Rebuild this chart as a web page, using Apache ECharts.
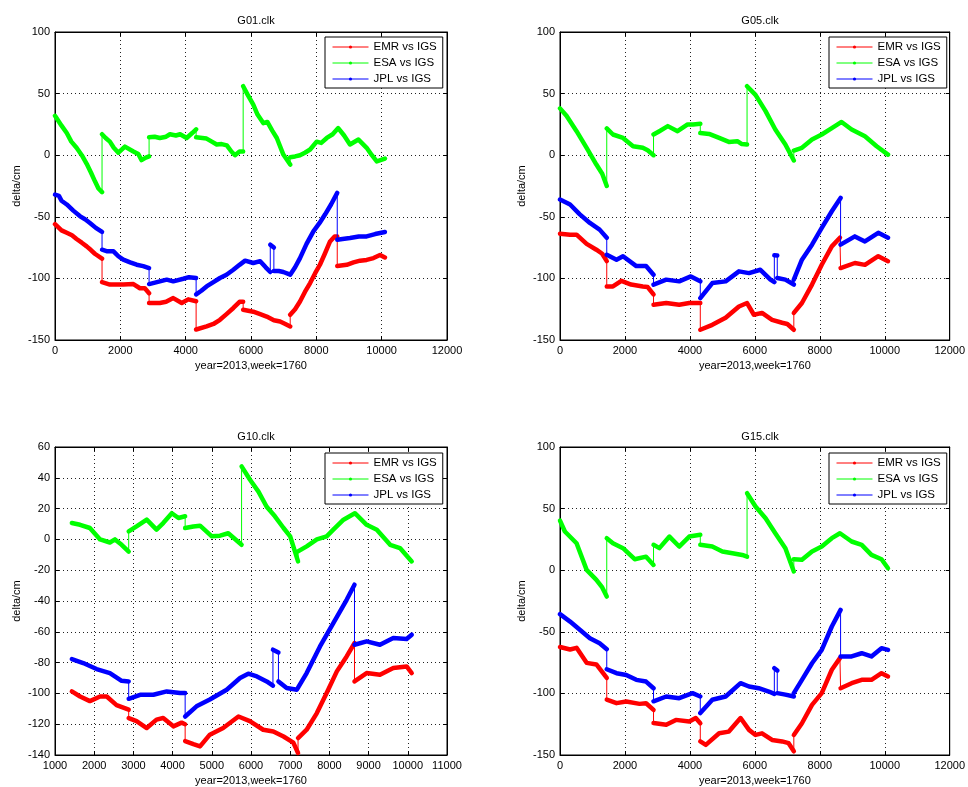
<!DOCTYPE html>
<html><head><meta charset="utf-8">
<script src="https://cdn.jsdelivr.net/npm/echarts@6/dist/echarts.min.js"></script>
<style>html,body{margin:0;padding:0;background:#fff}#c{width:968px;height:787px}</style>
</head><body><div id="c"></div><script>
const seriesNames = ['EMR vs IGS', 'ESA vs IGS', 'JPL vs IGS'];
const seriesColors = ['#ff0000', '#00ff00', '#0000ff'];
const panelTitles = ['G01.clk', 'G05.clk', 'G10.clk', 'G15.clk'];
const xAxisLabel = 'year=2013,week=1760';
const yAxisLabel = 'delta/cm';
const xRanges = [[0, 12000, 2000], [0, 12000, 2000], [1000, 11000, 1000], [0, 12000, 2000]];
const yRanges = [[-150, 100, 50], [-150, 100, 50], [-140, 60, 20], [-150, 100, 50]];

// ---- G01 ----
const G01_EMR = [[0,-56],[200,-61],[360,-63],[520,-65],[660,-68],[820,-71],[970,-74],[1100,-77],[1220,-80],[1440,-84],
[1440,-103],[1680,-105],[1900,-105],[2090,-105],[2400,-104.6],[2600,-108],[2750,-108],[2880,-112],
[2880,-120],[3210,-120],[3400,-119],[3620,-116],[3880,-120],[4080,-117],[4320,-118.5],
[4320,-141.5],[4640,-139],[4850,-137],[5050,-133.6],[5250,-129],[5460,-124],[5650,-119],[5760,-119],
[5760,-125.5],[6070,-127],[6280,-129],[6480,-131],[6700,-134],[6890,-135],[7050,-137],[7200,-139],
[7200,-129.5],[7350,-125],[7500,-118.7],[7650,-111],[7810,-103.8],[7960,-96],[8110,-88.9],[8260,-80],[8420,-70],[8560,-66],[8640,-66],
[8640,-90],[8930,-89],[9140,-87],[9340,-85.6],[9540,-85],[9750,-83.5],[9950,-81],[10100,-83]];
const G01_ESA = [[0,32],[200,24],[360,18],[500,11],[660,6],[820,0],[970,-7],[1100,-14],[1220,-21],[1330,-27],[1440,-30],
[1440,17],[1550,14],[1680,11],[1800,6],[1940,2],[2140,7],[2400,3],[2550,1],[2650,-4],[2780,-2],[2880,-1],
[2880,14.5],[3050,15],[3210,14],[3400,15],[3520,17],[3700,16],[3830,17],[4030,14],[4200,18],[4320,21],
[4320,14.5],[4640,13.5],[4800,11],[4950,8.7],[5100,9],[5260,8],[5400,3],[5510,0],[5650,3],[5760,3],
[5760,56],[5900,49],[6070,41],[6200,33],[6380,26],[6500,27],[6650,20],[6790,14],[6990,0.5],[7200,-7.6],
[7200,-1.6],[7350,-1],[7500,0],[7650,2],[7810,4.6],[8010,11],[8150,10],[8320,14],[8500,17],[8670,22],[8850,16],[9030,8.7],[9290,12.7],[9540,6],[9700,0],[9850,-5],[10100,-2.7]];
const G01_JPL = [[0,-32],[120,-33],[200,-37],[360,-40],[560,-45],[770,-49.6],[920,-52],[1070,-55],[1250,-59],[1440,-62.3],
[1440,-76.7],[1600,-78],[1790,-78],[1940,-82],[2090,-84.8],[2300,-87],[2500,-88.9],[2700,-90],[2880,-91.6],
[2880,-104.6],[3210,-102.4],[3420,-101],[3620,-102.4],[3930,-100.3],[4100,-99],[4320,-99.7],
[4320,-113],[4480,-110],[4640,-106.5],[4850,-103],[5050,-99.7],[5250,-97],[5460,-93],[5650,-89],[5820,-85.6],[6070,-87.5],[6280,-86],[6450,-91],[6590,-94.8],
[6590,-72.6],[6700,-75],
[6700,-94],[6850,-94],[6990,-94.8],[7200,-97],[7350,-91],[7500,-83.5],[7700,-72],[7910,-61.8],[8100,-55],[8270,-48],[8450,-40],[8640,-30.6],
[8640,-68.6],[8800,-68],[9030,-67.2],[9300,-66],[9540,-65.9],[9800,-64],[10100,-62.3]];

// ---- G05 ----
const G05_EMR = [[0,-63.7],[310,-64.5],[510,-64.5],[820,-72],[1120,-76.7],[1300,-80],[1440,-86],
[1440,-106.5],[1630,-106.5],[1890,-102],[2190,-105],[2550,-106.5],[2700,-107],[2880,-113],
[2880,-121.4],[3270,-120],[3670,-121.4],[3980,-120],[4320,-120],
[4320,-141.7],[4690,-137.7],[5100,-132],[5510,-122.8],[5760,-120],[5820,-120],[5970,-129.5],[6220,-128],[6530,-133.6],[6840,-136],[7000,-137],[7200,-141.7],
[7200,-128],[7450,-120],[7760,-105],[8060,-88.9],[8370,-74],[8620,-67],[8640,-67],
[8640,-91.6],[9080,-87.5],[9390,-89],[9800,-82],[10100,-86]];
const G05_ESA = [[0,38],[200,32],[510,19.5],[820,6],[1120,-7.6],[1300,-15],[1440,-25],
[1440,21.7],[1630,16.8],[1940,14],[2250,7.3],[2550,6],[2700,4],[2880,0],
[2880,16.8],[3060,19.5],[3320,23.6],[3620,19.5],[3930,25],[4100,25],[4320,25.5],
[4320,18],[4590,17.3],[4900,14],[5200,10.8],[5460,11.4],[5600,9],[5760,8.7],
[5760,56],[6020,49],[6330,35.8],[6630,20.9],[6940,8.7],[7200,-4.3],
[7200,3.8],[7450,6],[7760,12.7],[8060,16.8],[8370,22],[8670,27],[8980,20.9],[9390,15.4],[9750,7.3],[10100,0.5]];
const G05_JPL = [[0,-36],[310,-40],[610,-48],[920,-55],[1220,-60.4],[1440,-67],
[1440,-80.8],[1740,-84.8],[1940,-82],[2350,-90],[2650,-90],[2880,-97],
[2880,-105],[3270,-101],[3670,-102.4],[4030,-98.4],[4320,-102.4],
[4320,-116],[4690,-103.8],[5100,-102.4],[5510,-94.3],[5820,-95.7],[6170,-93],[6480,-101],[6600,-103],
[6600,-81.3],[6690,-81.5],
[6690,-99.7],[6940,-101],[7200,-105],
[7200,-101],[7450,-84.8],[7760,-72.6],[8060,-59],[8370,-45.5],[8640,-34.7],
[8640,-72.6],[9080,-65.9],[9390,-70],[9800,-63],[10100,-67]];

// ---- G10 ----
const G10_EMR = [[1430,-98.7],[1640,-102],[1890,-105],[2150,-102],[2320,-102],[2570,-107.6],[2880,-110.6],
[2880,-116],[3080,-118],[3340,-122.5],[3590,-117],[3760,-116],[4020,-121.4],[4230,-119],[4320,-120],
[4320,-131],[4530,-133],[4700,-134.4],[4950,-126.8],[5290,-122.5],[5680,-115],[5970,-118],[6310,-123.6],[6570,-124.7],[6830,-128],[7080,-132],[7200,-138.7],
[7200,-129],[7420,-123.6],[7680,-112.8],[7930,-99.8],[8190,-85.7],[8440,-76],[8640,-67.3],
[8640,-92.2],[8950,-86.8],[9290,-87.9],[9630,-83.5],[9970,-82.5],[10100,-86.8]];
const G10_ESA = [[1430,10.6],[1640,9.5],[1890,7.4],[2150,0],[2400,-2],[2530,0],[2700,-3.5],[2880,-8],
[2880,5.2],[3080,8.4],[3340,12.8],[3590,6.3],[3760,10.6],[3980,17],[4150,13.9],[4320,15],
[4320,7.4],[4530,8.4],[4700,8.9],[5000,2],[5210,2.4],[5420,4],[5760,-3.5],
[5760,47.4],[5975,38.7],[6190,31],[6400,21.2],[6610,15],[6830,7.4],[7000,2],[7200,-14.3],
[7200,-7.8],[7420,-4.5],[7680,0],[7930,2],[8100,6.3],[8360,12.8],[8650,17],[8950,9.5],[9210,6.3],[9550,-3.5],[9800,-5.6],[10100,-14.3]];
const G10_JPL = [[1430,-77.7],[1720,-80.3],[2060,-84.2],[2400,-86.8],[2700,-91.8],[2880,-92.2],
[2880,-103.5],[3170,-100.9],[3510,-100.9],[3850,-98.7],[4190,-99.8],[4320,-99.8],
[4320,-115],[4610,-108.4],[4950,-104],[5380,-97.6],[5720,-90],[5930,-87.2],[6150,-89],[6400,-92.2],[6560,-95],
[6560,-71.6],[6700,-73.4],
[6700,-92.2],[6910,-96.5],[7170,-97.6],[7420,-86.8],[7760,-69.5],[8100,-54.3],[8440,-39.2],[8640,-29.4],
[8640,-68.4],[8950,-66.2],[9290,-68.4],[9630,-64],[9970,-64.7],[10100,-61.9]];

// ---- G15 ----
const G15_EMR = [[0,-62.3],[310,-64.4],[510,-63],[820,-75.2],[1120,-76.5],[1440,-87.4],
[1440,-105],[1740,-107.9],[2040,-106.6],[2450,-108.5],[2650,-108],[2880,-113.4],
[2880,-124],[3270,-125.5],[3570,-121.5],[3980,-122.8],[4180,-120],[4320,-124.2],
[4320,-139],[4490,-141.8],[4900,-132.4],[5200,-131],[5560,-120],[5820,-129.6],[6020,-133.7],[6220,-132.4],[6530,-137.8],[6840,-139],[7040,-140.4],[7200,-147],
[7200,-133.7],[7450,-124.2],[7760,-109.3],[8060,-99.8],[8370,-80.8],[8620,-71.4],[8640,-71.4],
[8640,-95.8],[8980,-91.7],[9290,-89],[9590,-89],[9900,-83.6],[10100,-86.3]];
const G15_ESA = [[0,40.3],[150,31.4],[510,21.9],[820,0.3],[1120,-7.8],[1300,-14],[1440,-21.4],
[1440,26],[1630,21.9],[1940,17.9],[2300,8.9],[2650,11],[2880,4.3],
[2880,20.6],[3060,17.9],[3370,27.3],[3670,19.2],[3980,27.3],[4320,28.7],
[4320,20.6],[4690,19.2],[5000,15.2],[5310,13.8],[5610,12.4],[5760,11],
[5760,62.5],[6020,51.7],[6330,42.2],[6630,30],[6940,17.9],[7200,-1],
[7200,8.9],[7450,8.4],[7760,15.2],[8060,19.2],[8370,26],[8620,30],[8980,23.3],[9290,20.6],[9590,12.4],[9900,8.9],[10100,1.6]];
const G15_JPL = [[0,-35.7],[310,-41.7],[610,-48.4],[920,-55.2],[1220,-59.3],[1440,-64.1],
[1440,-80.4],[1740,-83.6],[2040,-85],[2350,-89],[2650,-90.4],[2880,-95.8],
[2880,-106.4],[3270,-102.5],[3670,-103.9],[4080,-99.8],[4320,-102.5],
[4320,-116],[4690,-105.2],[5100,-102.5],[5560,-91.7],[5820,-94.4],[6120,-95.8],[6430,-98.5],[6600,-100.4],
[6600,-79.5],[6690,-81.4],
[6690,-99.8],[6940,-101],[7200,-102.5],
[7200,-99.8],[7450,-89],[7760,-75.5],[8060,-64.7],[8370,-45.7],[8640,-32.2],
[8640,-70],[8980,-70],[9290,-67.4],[9590,-70],[9900,-63.3],[10100,-64.7]];

const panelData = [
  [G01_EMR, G01_ESA, G01_JPL],
  [G05_EMR, G05_ESA, G05_JPL],
  [G10_EMR, G10_ESA, G10_JPL],
  [G15_EMR, G15_ESA, G15_JPL]
];

const layout = [
  {left: 55, top: 32, titleX: 251, titleY: 10, legX: 325, legY: 37},
  {left: 560, top: 32, titleX: 755, titleY: 10, legX: 829, legY: 37},
  {left: 55, top: 447, titleX: 251, titleY: 426, legX: 325, legY: 453},
  {left: 560, top: 447, titleX: 755, titleY: 426, legX: 829, legY: 453}
];
const PW = 392, PH = 308;
const FONT = 'Liberation Sans, Arial, Helvetica, sans-serif';

// thick segments: break wherever two consecutive points share the same x (a jump)
function thickSegments(pts) {
  const out = [];
  pts.forEach((p, i) => {
    if (i > 0 && pts[i - 1][0] === p[0]) out.push([p[0], null]);
    out.push(p);
  });
  return out;
}
const plain = v => String(v);

const grids = [], xAxes = [], yAxes = [], titles = [], legends = [], series = [];
layout.forEach((L, i) => {
  grids.push({left: L.left, top: L.top, width: PW, height: PH, show: true,
    borderColor: '#000', borderWidth: 1, backgroundColor: '#fff', containLabel: false});
  const [xmin, xmax, xint] = xRanges[i];
  const [ymin, ymax, yint] = yRanges[i];
  const lab = {color: '#000', fontSize: 11, fontFamily: FONT, formatter: plain};
  const tick = {show: true, inside: true, length: 4, lineStyle: {color: '#000'}};
  const line = {show: true, onZero: false, lineStyle: {color: '#000', width: 1}};
  const split = {show: true, lineStyle: {color: '#222', type: [1, 3], width: 1}};
  xAxes.push({type: 'value', gridIndex: i, min: xmin, max: xmax, interval: xint, position: 'bottom',
    name: xAxisLabel, nameLocation: 'middle', nameGap: 20,
    nameTextStyle: {color: '#000', fontSize: 11, fontFamily: FONT},
    axisLine: line, axisTick: tick,
    axisLabel: Object.assign({margin: 5, showMinLabel: true, showMaxLabel: true}, lab),
    splitLine: split});
  xAxes.push({type: 'value', gridIndex: i, min: xmin, max: xmax, interval: xint, position: 'top',
    axisLine: line, axisTick: tick, axisLabel: {show: false}, splitLine: {show: false}});
  yAxes.push({type: 'value', gridIndex: i, min: ymin, max: ymax, interval: yint, position: 'left',
    name: yAxisLabel, nameLocation: 'middle', nameGap: 33, nameRotate: 90,
    nameTextStyle: {color: '#000', fontSize: 11, fontFamily: FONT},
    axisLine: line, axisTick: tick,
    axisLabel: Object.assign({margin: 5, showMinLabel: true, showMaxLabel: true}, lab),
    splitLine: split});
  yAxes.push({type: 'value', gridIndex: i, min: ymin, max: ymax, interval: yint, position: 'right',
    axisLine: line, axisTick: tick, axisLabel: {show: false}, splitLine: {show: false}});
  titles.push({text: panelTitles[i], left: L.titleX, top: L.titleY, textAlign: 'center',
    textStyle: {color: '#000', fontSize: 11, fontWeight: 'normal', fontFamily: FONT}});
  legends.push({show: true, orient: 'vertical', left: L.legX, top: L.legY, data: seriesNames,
    itemWidth: 36, itemHeight: 4, itemGap: 4, padding: [4, 6, 3, 7],
    borderColor: '#000', borderWidth: 1, backgroundColor: '#fff', selectedMode: false,
    lineStyle: {width: 1},
    textStyle: {color: '#000', fontSize: 11.5, fontFamily: FONT}});
  panelData[i].forEach((pts, k) => {
    series.push({type: 'line', name: seriesNames[k], xAxisIndex: 2 * i, yAxisIndex: 2 * i,
      data: pts, symbol: 'circle', symbolSize: 4, showSymbol: false, silent: true,
      lineStyle: {color: seriesColors[k], width: 1}, itemStyle: {color: seriesColors[k]},
      animation: false, z: 2 + k});
    series.push({type: 'line', name: seriesNames[k] + ' (trace)', xAxisIndex: 2 * i, yAxisIndex: 2 * i,
      data: thickSegments(pts), symbol: 'none', connectNulls: false, silent: true,
      lineStyle: {color: seriesColors[k], width: 4.5, join: 'round', cap: 'round'},
      itemStyle: {color: seriesColors[k]}, animation: false, z: 2 + k});
  });
});

const chart = echarts.init(document.getElementById('c'), null, {renderer: 'canvas'});
chart.setOption({
  backgroundColor: '#fff', animation: false,
  title: titles, legend: legends, grid: grids, xAxis: xAxes, yAxis: yAxes, series: series
});
</script></body></html>
